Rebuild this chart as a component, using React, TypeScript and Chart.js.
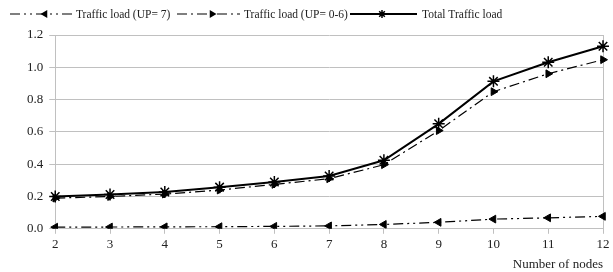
import React, { useEffect, useRef } from "react";
import { Chart, registerables } from "chart.js";

Chart.register(...registerables);

const nodes = ["2", "3", "4", "5", "6", "7", "8", "9", "10", "11", "12"];
const loadUP7 = [0.01, 0.011, 0.012, 0.013, 0.015, 0.018, 0.027, 0.04, 0.06, 0.068, 0.077];
const loadUP06 = [0.19, 0.2, 0.215, 0.24, 0.275, 0.31, 0.397, 0.608, 0.849, 0.96, 1.047];
const loadTotal = [0.2, 0.212, 0.228, 0.258, 0.29, 0.327, 0.424, 0.65, 0.913, 1.031, 1.13];
const seriesNames = ["Traffic load (UP= 7)", "Traffic load (UP= 0-6)", "Total Traffic load"];
const yTicks = [0, 0.2, 0.4, 0.6, 0.8, 1.0, 1.2];

const FONT = "'Liberation Serif', 'Times New Roman', serif";
const GRID = "#c0c0c0";

function drawMarker(ctx: CanvasRenderingContext2D, style: string, rot: number, r: number, x: number, y: number) {
  ctx.save();
  ctx.translate(x, y);
  ctx.fillStyle = "#000";
  ctx.strokeStyle = "#000";
  if (style === "triangle") {
    ctx.rotate((rot * Math.PI) / 180);
    ctx.beginPath();
    ctx.moveTo(0, -r);
    ctx.lineTo(r * 0.866, r * 0.5);
    ctx.lineTo(-r * 0.866, r * 0.5);
    ctx.closePath();
    ctx.fill();
  } else {
    ctx.lineWidth = 1.5;
    ctx.beginPath();
    for (let k = 0; k < 4; k++) {
      const a = (k * Math.PI) / 4;
      ctx.moveTo(-r * Math.cos(a), -r * Math.sin(a));
      ctx.lineTo(r * Math.cos(a), r * Math.sin(a));
    }
    ctx.stroke();
  }
  ctx.restore();
}

const legendPlugin = {
  id: "customLegend",
  afterDraw(chart: any) {
    const ctx = chart.ctx;
    const y = 14;
    const items = [
      { x0: 10, x1: 72, mx: 45, text: 76 },
      { x0: 177, x1: 240, mx: 212, text: 244 },
      { x0: 350, x1: 417, mx: 382, text: 422 },
    ];
    ctx.save();
    chart.data.datasets.forEach((ds: any, i: number) => {
      const it = items[i];
      ctx.strokeStyle = "#000";
      ctx.lineWidth = ds.borderWidth;
      ctx.setLineDash(ds.borderDash || []);
      ctx.beginPath();
      ctx.moveTo(it.x0, y);
      ctx.lineTo(it.x1, y);
      ctx.stroke();
      ctx.setLineDash([]);
      drawMarker(ctx, ds.pointStyle, ds.pointRotation || 0, ds.pointStyle === "star" ? 4 : ds.pointRadius, it.mx, y);
      ctx.font = `11.5px ${FONT}`;
      ctx.textBaseline = "middle";
      ctx.textAlign = "left";
      ctx.fillStyle = "#222";
      ctx.fillText(seriesNames[i], it.text, y + 1);
    });
    ctx.restore();
  },
};

const rightBorder = {
  id: "rightBorder",
  beforeDatasetsDraw(chart: any) {
    const { ctx, chartArea } = chart;
    ctx.save();
    ctx.strokeStyle = GRID;
    ctx.lineWidth = 1;
    ctx.beginPath();
    ctx.moveTo(chartArea.right + 0.5, chartArea.top);
    ctx.lineTo(chartArea.right + 0.5, chartArea.bottom);
    ctx.stroke();
    ctx.restore();
  },
};

export default function App() {
  const ref = useRef<HTMLCanvasElement>(null);
  useEffect(() => {
    if (!ref.current) return;
    const chart = new Chart(ref.current, {
      type: "line",
      data: {
        labels: nodes,
        datasets: [
          {
            label: seriesNames[0],
            data: loadUP7,
            borderColor: "#000",
            backgroundColor: "#000",
            borderWidth: 1.2,
            borderDash: [10, 4, 2, 4, 2, 4],
            pointStyle: "triangle",
            pointRotation: -90,
            pointRadius: 4.5,
            pointBorderWidth: 1,
          },
          {
            label: seriesNames[1],
            data: loadUP06,
            borderColor: "#000",
            backgroundColor: "#000",
            borderWidth: 1.2,
            borderDash: [10, 4, 2, 4],
            pointStyle: "triangle",
            pointRotation: 90,
            pointRadius: 4.5,
            pointBorderWidth: 1,
          },
          {
            label: seriesNames[2],
            data: loadTotal,
            borderColor: "#000",
            backgroundColor: "#000",
            borderWidth: 2,
            pointStyle: "star",
            pointRadius: 6,
            pointBorderWidth: 1.5,
          },
        ] as any,
      },
      options: {
        animation: false,
        responsive: false,
        layout: { padding: { top: 35, right: 10, left: 21, bottom: 0 } },
        plugins: { legend: { display: false }, tooltip: { enabled: false } },
        scales: {
          x: {
            offset: false,
            grid: { drawOnChartArea: false, color: GRID, tickColor: GRID, tickLength: 5 },
            border: { color: GRID },
            ticks: { color: "#222", font: { family: FONT, size: 13 }, padding: 3, maxRotation: 0 },
            title: {
              display: true,
              text: "Number of nodes",
              align: "end",
              color: "#222",
              font: { family: FONT, size: 13 },
              padding: { top: 1, bottom: 0 },
            },
          },
          y: {
            min: 0,
            max: 1.2,
            afterBuildTicks: (axis: any) => {
              axis.ticks = yTicks.map((v) => ({ value: v }));
            },
            grid: { color: GRID, tickColor: GRID, tickLength: 6 },
            border: { color: GRID },
            ticks: {
              color: "#222",
              font: { family: FONT, size: 13 },
              padding: 6,
              callback: (v: any) => Number(v).toFixed(1),
            },
          },
        },
      },
      plugins: [rightBorder, legendPlugin],
    });
    return () => chart.destroy();
  }, []);
  return (
    <div style={{ position: "fixed", left: 0, top: 0, width: 613, height: 272, background: "#fff" }}>
      <canvas ref={ref} width={613} height={272} />
    </div>
  );
}
